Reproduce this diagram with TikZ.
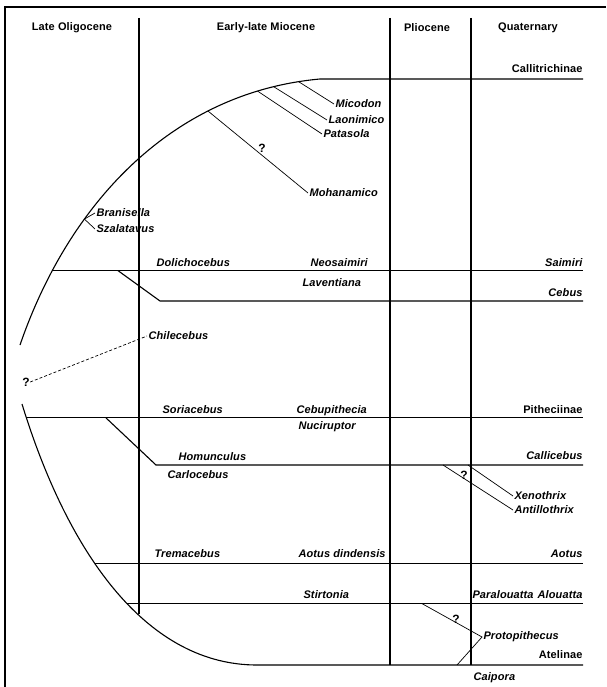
\documentclass[tikz,border=0pt]{standalone}
\usepackage{fontspec}
\setmainfont{Liberation Sans}[LetterSpace=1]
\begin{document}
\begin{tikzpicture}[x=1pt,y=-1pt,line width=1.1pt,
  era/.style={font=\bfseries\fontsize{11}{12}\selectfont},
  taxon/.style={font=\bfseries\itshape\fontsize{11}{12}\selectfont,inner sep=1pt},
  clade/.style={font=\bfseries\fontsize{11}{12}\selectfont,inner sep=0pt},
  ask/.style={font=\bfseries\fontsize{12}{12}\selectfont,inner sep=0pt},
  ptr/.style={line width=0.7pt}]
\useasboundingbox (0,0) rectangle (606,687);
%frame
\draw[line width=1.8pt] (5,687)--(5,7)--(606,7);
\coordinate (rgt) at (583,0);
%epochs
\node[era] (olig) at (72,28) {Late Oligocene};
\node[era] (mioc) at (266,28) {Early-late Miocene};
\node[era] (plio) at (427,28) {Pliocene};
\node[era] (quat) at (528,28) {Quaternary};
\draw (139,18)--(139,614);
\draw (390,18)--(390,665);
\draw (471,18)--(471,665);
%upper curve
\draw (20,345) .. controls (70,200) and (175,92) .. (320,79)
  coordinate[pos=0.18] (dol) coordinate[pos=0.32] (bra)
  coordinate[pos=0.72] (moh) coordinate[pos=0.85] (pat)
  coordinate[pos=0.89] (lao) coordinate[pos=0.95] (mic) -- (rgt |- 0,79);
\node[clade,anchor=base east] (calli) at (583,73) {Callitrichinae};
\node[taxon,anchor=west] (micodon) at (334,104) {Micodon};
\node[taxon,anchor=west] (laonimico) at (327,120) {Laonimico};
\node[taxon,anchor=west] (patasola) at (322,134) {Patasola};
\node[taxon,anchor=west] (mohanamico) at (308,193) {Mohanamico};
\node[ask] (q2) at (262,148) {?};
\draw[ptr] (mic)--(micodon.west);
\draw[ptr] (lao)--(laonimico.west);
\draw[ptr] (pat)--(patasola.west);
\draw[ptr] (moh)--(mohanamico.west);
\node[taxon,anchor=west] (branisella) at (95,213) {Branisella};
\node[taxon,anchor=west] (szalatavus) at (95,229) {Szalatavus};
\draw[ptr] (branisella.west)--(bra)--(szalatavus.west);
%Saimiri and Cebus
\draw (dol)--(dol -| rgt);
\draw (dol -| 118,0)--(160,301)--(583,301);
\node[taxon,anchor=base west] (dolicho) at (155,266) {Dolichocebus};
\node[taxon,anchor=base west] (neosai) at (309,266) {Neosaimiri};
\node[taxon,anchor=base west] (laven) at (301,286) {Laventiana};
\node[taxon,anchor=base east,inner sep=0pt] (saimiri) at (583,266) {Saimiri};
\node[taxon,anchor=base east,inner sep=0pt] (cebus) at (583,296) {Cebus};
%Chilecebus
\node[ask] (q1) at (26,382) {?};
\node[taxon,anchor=west] (chile) at (147,336) {Chilecebus};
\draw[ptr,densely dashed] (q1.east)--(chile.west);
%lower curve
\draw (22,404) .. controls (70,560) and (150,665) .. (257,665)
  coordinate[pos=0.03] (sor) coordinate[pos=0.4] (tre)
  coordinate[pos=0.54] (sti) -- (rgt |- 0,665);
%Pitheciinae and Callicebus
\draw (sor)--(sor -| rgt);
\draw (sor -| 106,0)--(156,465)--(583,465);
\node[taxon,anchor=base west] (soria) at (161,413) {Soriacebus};
\node[taxon,anchor=base west] (cebupi) at (295,413) {Cebupithecia};
\node[taxon,anchor=base west] (nuci) at (297,429) {Nuciruptor};
\node[clade,anchor=base east] (pith) at (583,413) {Pitheciinae};
\node[taxon,anchor=base west] (homun) at (177,460) {Homunculus};
\node[taxon,anchor=base west] (carlo) at (166,478) {Carlocebus};
\node[taxon,anchor=base east,inner sep=0pt] (callic) at (583,459) {Callicebus};
\node[taxon,anchor=west] (xeno) at (513,496) {Xenothrix};
\node[taxon,anchor=west] (anti) at (513,510) {Antillothrix};
\node[ask] (q3) at (464,475) {?};
\draw[ptr] (468,465)--(xeno.west);
\draw[ptr] (443,465)--(anti.west);
%Aotus
\draw (tre)--(tre -| rgt);
\node[taxon,anchor=base west] (trema) at (153,557) {Tremacebus};
\node[taxon,anchor=base west] (aotusd) at (297,557) {Aotus dindensis};
\node[taxon,anchor=base east,inner sep=0pt] (aotus) at (583,557) {Aotus};
%Atelinae
\draw (sti)--(sti -| rgt);
\node[taxon,anchor=base west] (stirt) at (302,598) {Stirtonia};
\node[taxon,anchor=base west,inner sep=0pt] (paral) at (472,598) {Paralouatta};
\node[taxon,anchor=base east,inner sep=0pt] (alou) at (583,598) {Alouatta};
\node[taxon,anchor=west] (proto) at (482,637) {Protopithecus};
\node[ask] (q4) at (456,619) {?};
\draw[ptr] (sti -| 422,0)--(proto.west)--(457,665);
\node[clade,anchor=base east] (ateli) at (583,658) {Atelinae};
\node[taxon,anchor=base west] (caip) at (472,680) {Caipora};
\end{tikzpicture}
\end{document}
